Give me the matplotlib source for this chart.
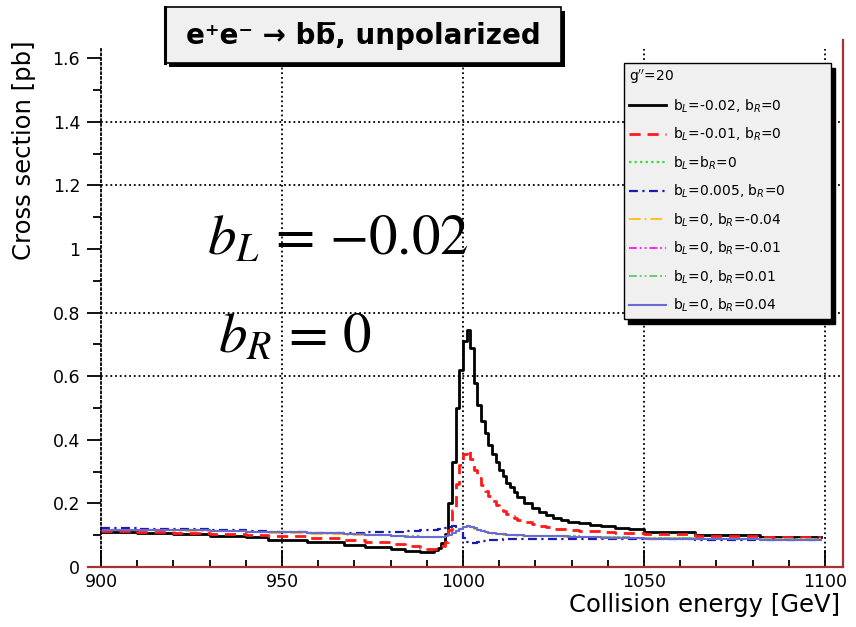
#!/usr/bin/env python3
import matplotlib
matplotlib.use("Agg")
import matplotlib.pyplot as plt
from matplotlib.lines import Line2D
from matplotlib.patches import Rectangle
from matplotlib.ticker import FixedLocator, MultipleLocator

# energy scan, bin edges [GeV]
energy = [900, 910, 920, 930, 940, 946, 957, 967, 973, 980,
          984, 988, 990, 992, 993, 994, 995, 996, 997, 998,
          999, 1000, 1001, 1002, 1003, 1004, 1005, 1006, 1007, 1008,
          1009, 1010, 1011, 1012, 1013, 1014, 1015, 1017, 1019, 1021,
          1023, 1025, 1027, 1029, 1032, 1035, 1038, 1042, 1046, 1050,
          1064, 1082, 1099]

# cross sections [pb], one list per coupling point (g''=20)
xs_bl_m002 = [0.111, 0.108, 0.104, 0.097, 0.093, 0.085, 0.080, 0.069, 0.064, 0.056,
              0.050, 0.048, 0.048, 0.052, 0.060, 0.075, 0.105, 0.200, 0.330, 0.500,
              0.620, 0.710, 0.745, 0.690, 0.580, 0.510, 0.460, 0.420, 0.385, 0.355,
              0.330, 0.305, 0.285, 0.265, 0.250, 0.235, 0.220, 0.200, 0.185, 0.172,
              0.163, 0.155, 0.148, 0.142, 0.137, 0.132, 0.128, 0.124, 0.120, 0.110,
              0.101, 0.093, 0.093]
xs_bl_m001 = [0.112, 0.110, 0.107, 0.103, 0.100, 0.097, 0.092, 0.085, 0.080, 0.072,
              0.065, 0.060, 0.058, 0.058, 0.059, 0.065, 0.080, 0.115, 0.180, 0.260,
              0.320, 0.355, 0.368, 0.340, 0.305, 0.280, 0.258, 0.240, 0.222, 0.208,
              0.196, 0.185, 0.175, 0.167, 0.160, 0.154, 0.148, 0.140, 0.134, 0.129,
              0.125, 0.121, 0.118, 0.116, 0.114, 0.112, 0.110, 0.108, 0.106, 0.103,
              0.098, 0.093, 0.093]
xs_sm = [0.117, 0.116, 0.115, 0.113, 0.111, 0.109, 0.106, 0.103, 0.101, 0.098,
         0.096, 0.095, 0.094, 0.094, 0.094, 0.095, 0.097, 0.101, 0.107, 0.114,
         0.121, 0.126, 0.129, 0.127, 0.122, 0.117, 0.113, 0.110, 0.108, 0.106,
         0.105, 0.104, 0.103, 0.102, 0.101, 0.101, 0.100, 0.099, 0.098, 0.098,
         0.097, 0.097, 0.096, 0.096, 0.095, 0.095, 0.094, 0.093, 0.092, 0.091,
         0.089, 0.087, 0.087]
xs_bl_p0005 = [0.122, 0.120, 0.118, 0.116, 0.113, 0.110, 0.108, 0.108, 0.109, 0.111,
               0.113, 0.115, 0.116, 0.117, 0.118, 0.120, 0.123, 0.126, 0.128, 0.125,
               0.110, 0.090, 0.078, 0.076, 0.077, 0.079, 0.081, 0.083, 0.084, 0.085,
               0.086, 0.086, 0.087, 0.087, 0.088, 0.088, 0.088, 0.089, 0.089, 0.089,
               0.089, 0.089, 0.089, 0.089, 0.088, 0.088, 0.088, 0.087, 0.087, 0.087,
               0.086, 0.085, 0.085]
xs_br_m004 = [0.116, 0.115, 0.114, 0.112, 0.110, 0.108, 0.105, 0.102, 0.100, 0.097,
              0.095, 0.094, 0.093, 0.093, 0.093, 0.094, 0.096, 0.100, 0.106, 0.113,
              0.120, 0.125, 0.128, 0.126, 0.121, 0.116, 0.112, 0.109, 0.107, 0.105,
              0.104, 0.103, 0.102, 0.101, 0.100, 0.100, 0.099, 0.098, 0.097, 0.097,
              0.096, 0.096, 0.095, 0.095, 0.094, 0.094, 0.093, 0.092, 0.091, 0.090,
              0.088, 0.087, 0.087]
xs_br_m001 = [0.117, 0.116, 0.115, 0.113, 0.111, 0.109, 0.106, 0.103, 0.100, 0.098,
              0.096, 0.095, 0.094, 0.094, 0.094, 0.095, 0.097, 0.101, 0.107, 0.114,
              0.121, 0.126, 0.129, 0.127, 0.122, 0.117, 0.113, 0.110, 0.108, 0.106,
              0.105, 0.104, 0.103, 0.102, 0.101, 0.101, 0.100, 0.099, 0.098, 0.098,
              0.097, 0.097, 0.096, 0.096, 0.095, 0.095, 0.094, 0.093, 0.092, 0.091,
              0.089, 0.087, 0.087]
xs_br_p001 = [0.117, 0.116, 0.115, 0.113, 0.111, 0.109, 0.106, 0.103, 0.101, 0.098,
              0.096, 0.095, 0.094, 0.094, 0.094, 0.095, 0.097, 0.101, 0.107, 0.114,
              0.121, 0.126, 0.129, 0.127, 0.122, 0.117, 0.113, 0.110, 0.108, 0.106,
              0.105, 0.104, 0.103, 0.102, 0.101, 0.101, 0.100, 0.099, 0.098, 0.098,
              0.097, 0.097, 0.096, 0.096, 0.095, 0.095, 0.094, 0.093, 0.092, 0.091,
              0.089, 0.087, 0.087]
xs_br_p004 = [0.117, 0.116, 0.115, 0.113, 0.111, 0.109, 0.106, 0.103, 0.100, 0.097,
              0.095, 0.094, 0.093, 0.093, 0.093, 0.094, 0.096, 0.100, 0.106, 0.113,
              0.120, 0.125, 0.128, 0.127, 0.122, 0.117, 0.113, 0.110, 0.108, 0.106,
              0.105, 0.104, 0.103, 0.102, 0.102, 0.101, 0.100, 0.099, 0.098, 0.098,
              0.097, 0.097, 0.096, 0.095, 0.094, 0.093, 0.092, 0.091, 0.090, 0.089,
              0.088, 0.086, 0.086]

labels = [r"b$_{L}$=-0.02, b$_{R}$=0",
          r"b$_{L}$=-0.01, b$_{R}$=0",
          r"b$_{L}$=b$_{R}$=0",
          r"b$_{L}$=0.005, b$_{R}$=0",
          r"b$_{L}$=0, b$_{R}$=-0.04",
          r"b$_{L}$=0, b$_{R}$=-0.01",
          r"b$_{L}$=0, b$_{R}$=0.01",
          r"b$_{L}$=0, b$_{R}$=0.04"]

x_ticks = [900, 950, 1000, 1050, 1100]
y_ticks = [0, 0.2, 0.4, 0.6, 0.8, 1.0, 1.2, 1.4, 1.6]
y_tick_labels = ["0", "0.2", "0.4", "0.6", "0.8", "1", "1.2", "1.4", "1.6"]
grid_y = [0.6, 0.8, 1.2, 1.4]

W, H = 856, 627


def px(x, y):
    # pixel position (from top-left) -> figure fraction
    return x / W, 1 - y / H


def draw_curves(ax):
    series = [xs_bl_m002, xs_bl_m001, xs_sm, xs_bl_p0005,
              xs_br_m004, xs_br_m001, xs_br_p001, xs_br_p004]
    styles = [dict(color="black", ls="-", lw=2.0),
              dict(color="#ff1a1a", ls=(0, (4, 2.5)), lw=2.0),
              dict(color="#33dd33", ls=(0, (1, 1.5)), lw=1.6),
              dict(color="#1a1ab4", ls=(0, (4, 2, 1, 2)), lw=1.6),
              dict(color="#ffc21a", ls=(0, (6, 2, 1, 2)), lw=1.4),
              dict(color="#ff22ff", ls=(0, (4, 1.5, 1, 1.5, 1, 1.5)), lw=1.4),
              dict(color="#70c870", ls=(0, (4, 1.5, 1, 1.5, 1, 1.5)), lw=1.4),
              dict(color="#6a6ad0", ls="-", lw=1.5)]
    for ys, st, lab in zip(series, styles, labels):
        ax.plot(energy, ys, drawstyle="steps-post", label=lab, **st)


def title_pave(fig):
    bx0, by1 = px(165, 63)
    bx1, by0 = px(561, 7)
    sh = 4 / W, 4 / H
    fig.patches.append(Rectangle((bx0 + sh[0], by1 - sh[1]), bx1 - bx0,
                                 by0 - by1, transform=fig.transFigure,
                                 fc="black", ec="black", lw=0))
    fig.patches.append(Rectangle((bx0, by1), bx1 - bx0, by0 - by1,
                                 transform=fig.transFigure, fc="#f0f0f0",
                                 ec="black", lw=1.2))
    fig.lines.append(Line2D([bx0, bx0], [by1, by0], transform=fig.transFigure,
                            color="black", lw=2.2))
    fig.text((bx0 + bx1) / 2, (by0 + by1) / 2 - 0.002,
             "e\u207ae\u207b \u2192 bb\u0305, unpolarized",
             ha="center", va="center", fontsize=20, fontweight="bold")


def main():
    fig = plt.figure(figsize=(W / 100, H / 100), dpi=100)
    x0, y0 = px(88, 567)
    x1, y1 = px(843, 40)
    ax = fig.add_axes([x0, y0, x1 - x0, y1 - y0])
    ax.set_xlim(896.4, 1105)
    ax.set_ylim(0, 1.657)

    frame_red = "#a83232"
    ax.spines["top"].set_visible(False)
    for s in ("bottom", "right"):
        ax.spines[s].set_color(frame_red)
        ax.spines[s].set_linewidth(1.6)
    ax.spines["left"].set_position(("data", 900))
    ax.spines["left"].set_linestyle((0, (1, 1.6)))
    ax.spines["left"].set_linewidth(1.3)
    ax.spines["left"].set_bounds(0, 1.63)

    dotted = (0, (1, 1.6))
    ax.vlines(x_ticks[1:], 0, 1.63, colors="black", linestyles=dotted,
              lw=1.3, zorder=1)
    ax.hlines(grid_y, 900, 1105, colors="black", linestyles=dotted,
              lw=1.3, zorder=1)

    draw_curves(ax)

    ax.xaxis.set_major_locator(FixedLocator(x_ticks))
    ax.xaxis.set_minor_locator(MultipleLocator(10))
    ax.yaxis.set_major_locator(FixedLocator(y_ticks))
    ax.yaxis.set_minor_locator(MultipleLocator(0.1))
    ax.set_yticklabels(y_tick_labels)
    ax.tick_params(axis="x", which="major", direction="in", length=12,
                   width=1.3, color="black", labelsize=12.5, pad=4)
    ax.tick_params(axis="x", which="minor", direction="in", length=5,
                   width=1.3, color="black")
    ax.tick_params(axis="y", which="major", direction="out", length=10,
                   width=1.3, labelsize=12.5, pad=5)
    ax.tick_params(axis="y", which="minor", direction="out", length=6,
                   width=1.3)

    # axis titles, ROOT style (flush with the axis ends)
    fig.text(*px(24, 40), "Cross section [pb]", rotation=90,
             ha="center", va="top", fontsize=17.5)
    fig.text(*px(840, 605), "Collision energy [GeV]", ha="right",
             va="center", fontsize=17.5)

    # coupling annotation
    fig.text(*px(207, 255), r"$b_L\,=\,{-}0.02$", fontsize=41,
             math_fontfamily="stix", va="baseline")
    fig.text(*px(218, 353), r"$b_R\,=\,0$", fontsize=41,
             math_fontfamily="stix", va="baseline")

    title_pave(fig)

    lx0, ly1 = px(624, 63)
    lx1, _ = px(831, 63)
    leg = ax.legend(loc="upper left",
                    bbox_to_anchor=(lx0, ly1 - 0.41, lx1 - lx0, 0.41),
                    bbox_transform=fig.transFigure, mode="expand",
                    title=r"g$^{\prime\prime}$=20", alignment="left",
                    fontsize=10, title_fontsize=10, handlelength=2.7,
                    handletextpad=0.45, labelspacing=0.8, borderaxespad=0,
                    borderpad=0.35, fancybox=False, framealpha=1,
                    facecolor="#f0f0f0", edgecolor="black",
                    shadow={"ox": 3, "oy": -3.5, "color": "black", "alpha": 1})
    leg.get_frame().set_linewidth(1.0)

    fig.savefig("out.png", dpi=100)


if __name__ == "__main__":
    main()
